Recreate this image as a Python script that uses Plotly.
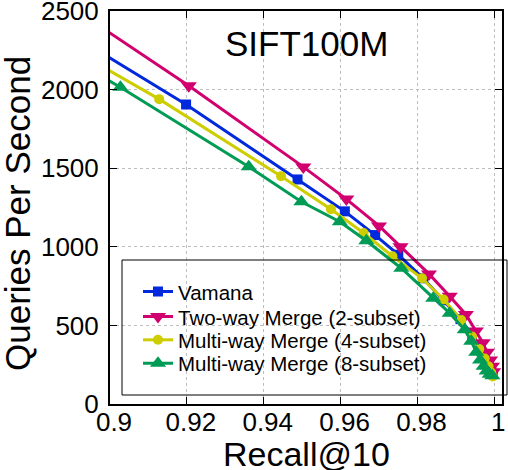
import plotly.graph_objects as go

# ---- data ----
vamana_recall = [0.885, 0.9198, 0.9488, 0.9611, 0.9690, 0.9750, 0.9815, 0.9868, 0.9912, 0.9942, 0.9962, 0.9976, 0.9986, 0.9992, 0.9996]
vamana_qps    = [2426, 1906, 1429, 1226, 1075, 950, 800, 660, 540, 440, 360, 300, 250, 215, 190]

two_recall = [0.885, 0.9205, 0.9503, 0.9615, 0.9700, 0.9756, 0.9830, 0.9884, 0.9926, 0.9952, 0.9970, 0.9981, 0.9989, 0.9994, 0.9997]
two_qps    = [2607, 2025, 1509, 1304, 1133, 1001, 828, 686, 570, 465, 390, 330, 280, 240, 205]

four_recall = [0.885, 0.9128, 0.9445, 0.9575, 0.9660, 0.9735, 0.9812, 0.9868, 0.9914, 0.9942, 0.9961, 0.9975, 0.9985, 0.9992, 0.9996]
four_qps    = [2329, 1940, 1450, 1239, 1088, 940, 800, 665, 535, 430, 350, 290, 240, 200, 175]

eight_recall = [0.885, 0.9027, 0.9361, 0.9498, 0.9598, 0.9667, 0.9758, 0.9841, 0.9884, 0.9923, 0.9940, 0.9953, 0.9963, 0.9972, 0.9980, 0.9988, 0.9995]
eight_qps    = [2264, 2016, 1510, 1287, 1160, 1039, 864, 673, 578, 472, 400, 330, 280, 240, 210, 190, 180]

x_tickvals = [0.9, 0.92, 0.94, 0.96, 0.98, 1.0]
x_ticktext = ["0.9", "0.92", "0.94", "0.96", "0.98", "1"]
y_tickvals = [0, 500, 1000, 1500, 2000, 2500]

FONT = "Liberation Sans, Arial, sans-serif"

series = [
    ("Vamana", vamana_recall, vamana_qps, "rgb(0,40,220)", "square", 10),
    ("Two-way Merge (2-subset)", two_recall, two_qps, "rgb(210,0,110)", "triangle-down", 14),
    ("Multi-way Merge (4-subset)", four_recall, four_qps, "rgb(205,205,0)", "circle", 10),
    ("Multi-way Merge (8-subset)", eight_recall, eight_qps, "rgb(0,155,85)", "triangle-up", 14),
]

W, H = 508, 470
ml, mr, mt, mb = 110, 6, 11, 66
pw, ph = W - ml - mr, H - mt - mb

def px_x(p):
    return (p - ml) / pw

def px_y(p):
    return 1 - (p - mt) / ph

legend_rows = [291.7, 316.7, 340.0, 363.3]
legend_names = ["legend", "legend2", "legend3", "legend4"]

fig = go.Figure()
for i, (name, xs, ys, col, sym, sz) in enumerate(series):
    fig.add_trace(go.Scatter(
        x=xs, y=ys, name=name, mode="lines+markers",
        line=dict(color=col, width=3),
        marker=dict(symbol=sym, size=sz, color=col),
        cliponaxis=True, legend=legend_names[i],
    ))

legend_layouts = {}
for lname, row in zip(legend_names, legend_rows):
    legend_layouts[lname] = dict(
        x=px_x(138), y=px_y(row), xanchor="left", yanchor="middle",
        bgcolor="rgba(0,0,0,0)", borderwidth=0,
        font=dict(size=20.5, family=FONT, color="black"),
        itemwidth=30,
    )

fig.update_layout(
    width=W, height=H,
    margin=dict(l=ml, r=mr, t=mt, b=mb, autoexpand=False),
    paper_bgcolor="white", plot_bgcolor="white",
    font=dict(family=FONT, color="black"),
    showlegend=True,
    **legend_layouts,
    annotations=[
        dict(text="SIFT100M", x=0.5, y=px_y(43), xref="paper", yref="paper",
             xanchor="center", yanchor="middle", showarrow=False,
             font=dict(size=35, family=FONT)),
        dict(text="Recall@10", x=px_x(306), y=px_y(454), xref="paper", yref="paper",
             xanchor="center", yanchor="middle", showarrow=False,
             font=dict(size=34, family=FONT)),
        dict(text="Queries Per Second", x=px_x(17), y=px_y(214), xref="paper", yref="paper",
             xanchor="center", yanchor="middle", showarrow=False, textangle=-90,
             font=dict(size=35, family=FONT)),
    ],
    shapes=[dict(
        type="rect", xref="paper", yref="paper",
        x0=px_x(122), x1=px_x(507), y0=px_y(395), y1=px_y(260),
        line=dict(color="black", width=1), fillcolor="rgba(0,0,0,0)",
        layer="above",
    )],
)

fig.update_xaxes(
    range=[0.9, 1.002], tickvals=x_tickvals, ticktext=x_ticktext,
    showgrid=True, gridcolor="rgb(190,190,190)", griddash="dot", gridwidth=1,
    showline=True, linecolor="black", linewidth=2, mirror="ticks",
    ticks="inside", ticklen=7, tickcolor="black", tickwidth=1,
    tickfont=dict(size=26, family=FONT), ticklabelstandoff=-6,
    ticklabelshift=4, ticklabeloverflow="allow",
    automargin=False, zeroline=False,
)
fig.update_yaxes(
    range=[0, 2501], tickvals=y_tickvals,
    showgrid=True, gridcolor="rgb(190,190,190)", griddash="dot", gridwidth=1,
    showline=True, linecolor="black", linewidth=2, mirror="ticks",
    ticks="inside", ticklen=7, tickcolor="black", tickwidth=1,
    tickfont=dict(size=26, family=FONT), ticklabelstandoff=4,
    ticklabeloverflow="allow",
    automargin=False, zeroline=False,
)

fig.write_html("out.html", config={"displayModeBar": False},
               post_script="document.body.style.margin='0px';")
